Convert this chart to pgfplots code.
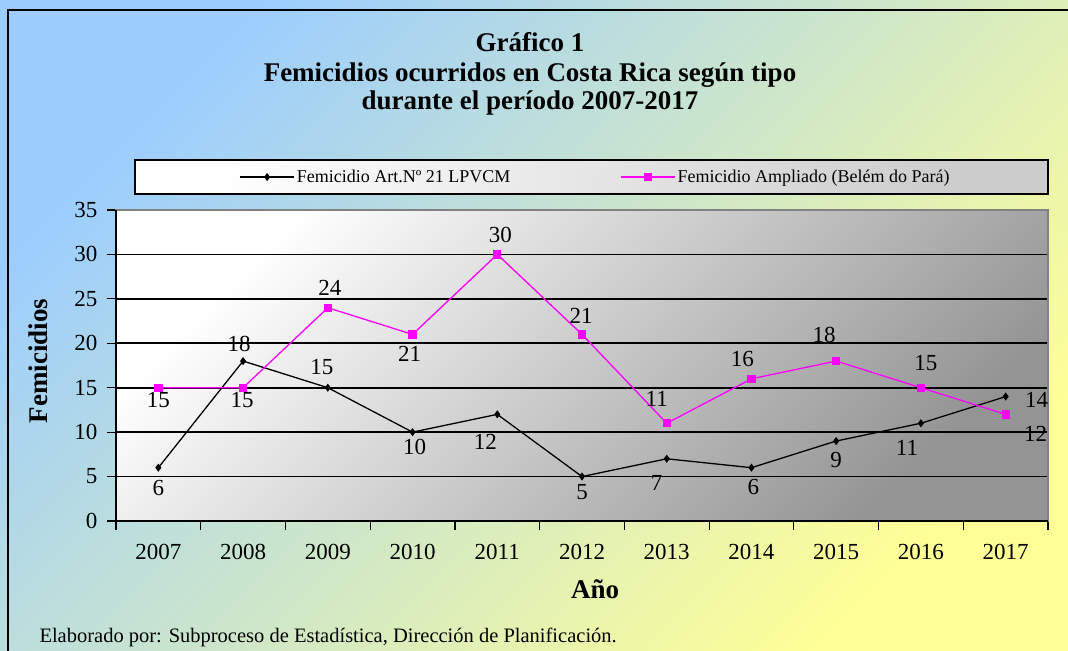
\documentclass[border=0pt]{standalone}
\usepackage{fontspec}
\setmainfont{Liberation Serif}
\usepackage{pgfplots}
\pgfplotsset{compat=1.18}
\definecolor{bgblue}{RGB}{155,205,255}
\definecolor{bgyellow}{RGB}{255,255,150}
\definecolor{mag}{RGB}{255,0,255}
\definecolor{pgray}{RGB}{130,130,130}

\begin{document}
\begin{tikzpicture}
\begin{scope}[x=1bp,y=1bp]
\useasboundingbox (0,0) rectangle (1068,651);
% background
\shade[top color=bgblue, bottom color=bgyellow, shading angle=45] (0,0) rectangle (1068,651);
\draw[black, line width=1.5bp] (8,-20) -- (8,641) -- (1090,641);
% titles
\node[font=\fontsize{27bp}{30bp}\selectfont\bfseries] at (530,609) {Gráfico 1};
\node[font=\fontsize{27bp}{30bp}\selectfont\bfseries] at (530,576) {Femicidios ocurridos en Costa Rica según tipo};
\node[font=\fontsize{27bp}{30bp}\selectfont\bfseries] at (530,548) {durante el período 2007-2017};
% legend box
\shade[top color=white, bottom color=gray!40, shading angle=75] (135,457) rectangle (1048,491);
\draw[black, line width=1.5bp] (135,457) rectangle (1048,491);
% footer
\node[anchor=base west, font=\fontsize{20.5bp}{23bp}\selectfont] at (36,8) {Elaborado por: Subproceso de Estadística, Dirección de Planificación.};
\end{scope}
\begin{axis}[
  at={(116bp,130bp)}, anchor=south west,
  scale only axis, width=932bp, height=311bp,
  xmin=-0.5, xmax=10.5, ymin=0, ymax=35,
  xtick={0,...,10},
  xticklabels={2007,2008,2009,2010,2011,2012,2013,2014,2015,2016,2017},
  minor xtick={-0.5,0.5,...,10.5},
  ytick={0,5,...,35},
  major x tick style={draw=none},
  tick align=outside,
  major tick length=9bp, minor tick length=9bp,
  tick style={black, line width=1.2bp},
  xtick pos=bottom, ytick pos=left,
  ymajorgrids, grid style={black, line width=1.6bp},
  axis line style={draw=pgray, line width=1.2bp},
  axis background/.style={top color=white, bottom color=black!42, shading angle=45},
  tick label style={font=\fontsize{23bp}{26bp}\selectfont},
  /pgf/number format/assume math mode=true,
  xticklabel style={yshift=-11bp},
  yticklabel style={xshift=-6bp},
  xlabel={Año}, ylabel={Femicidios},
  label style={font=\fontsize{27bp}{30bp}\selectfont\bfseries},
  xlabel style={at={(axis description cs:0.514,-0.219)}, anchor=center},
  ylabel style={at={(axis description cs:-0.0837,0.515)}, anchor=center},
  legend columns=2,
  legend style={at={(axis description cs:0.5145,1.106)}, anchor=center, draw=none, fill=none,
    font=\fontsize{18bp}{21bp}\selectfont,
    /tikz/every even column/.append style={column sep=108bp}},
  legend image code/.code={\draw[mark repeat=2,mark phase=2,#1] plot coordinates {(0bp,0bp) (27bp,0bp) (54bp,0bp)};},
  after end axis/.code={\draw[black,line width=1.6bp] (rel axis cs:0,1) -- (rel axis cs:0,0) -- (rel axis cs:1,0);},
  lab/.style 2 args={forget plot, draw=none, mark=none, nodes near coords, point meta=y,
    every node near coord/.append style={font=\fontsize{23bp}{26bp}\selectfont, text=black, inner sep=0pt, anchor=center, xshift=#1bp, yshift=#2bp}},
]
\addplot[black, line width=1.3bp, mark=diamond*, mark size=3bp]
  coordinates {(0,6) (1,18) (2,15) (3,10) (4,12) (5,5) (6,7) (7,6) (8,9) (9,11) (10,14)};
\addlegendentry{Femicidio Art.Nº 21 LPVCM}
\addplot[mag, line width=1.3bp, mark=square*, mark size=3.5bp]
  coordinates {(0,15) (1,15) (2,24) (3,21) (4,30) (5,21) (6,11) (7,16) (8,18) (9,15) (10,12)};
\addlegendentry{Femicidio Ampliado (Belém do Pará)}
% data labels, black series
\addplot[lab={0}{-20}] coordinates {(0,6)};
\addplot[lab={-4}{17}] coordinates {(1,18)};
\addplot[lab={-6}{21}] coordinates {(2,15)};
\addplot[lab={2}{-15}] coordinates {(3,10)};
\addplot[lab={-12}{-28}] coordinates {(4,12)};
\addplot[lab={0}{-16}] coordinates {(5,5)};
\addplot[lab={-10}{-24}] coordinates {(6,7)};
\addplot[lab={2}{-19}] coordinates {(7,6)};
\addplot[lab={0}{-19}] coordinates {(8,9)};
\addplot[lab={-14}{-25}] coordinates {(9,11)};
\addplot[lab={31}{-3}] coordinates {(10,14)};
% data labels, magenta series
\addplot[lab={0}{-12}] coordinates {(0,15)};
\addplot[lab={-1}{-12}] coordinates {(1,15)};
\addplot[lab={2}{20}] coordinates {(2,24)};
\addplot[lab={-3}{-19}] coordinates {(3,21)};
\addplot[lab={3}{19}] coordinates {(4,30)};
\addplot[lab={-1}{19}] coordinates {(5,21)};
\addplot[lab={-10}{24}] coordinates {(6,11)};
\addplot[lab={-9}{20}] coordinates {(7,16)};
\addplot[lab={-12}{26}] coordinates {(8,18)};
\addplot[lab={5}{25}] coordinates {(9,15)};
\addplot[lab={30}{-20}] coordinates {(10,12)};
\end{axis}
\end{tikzpicture}
\end{document}
